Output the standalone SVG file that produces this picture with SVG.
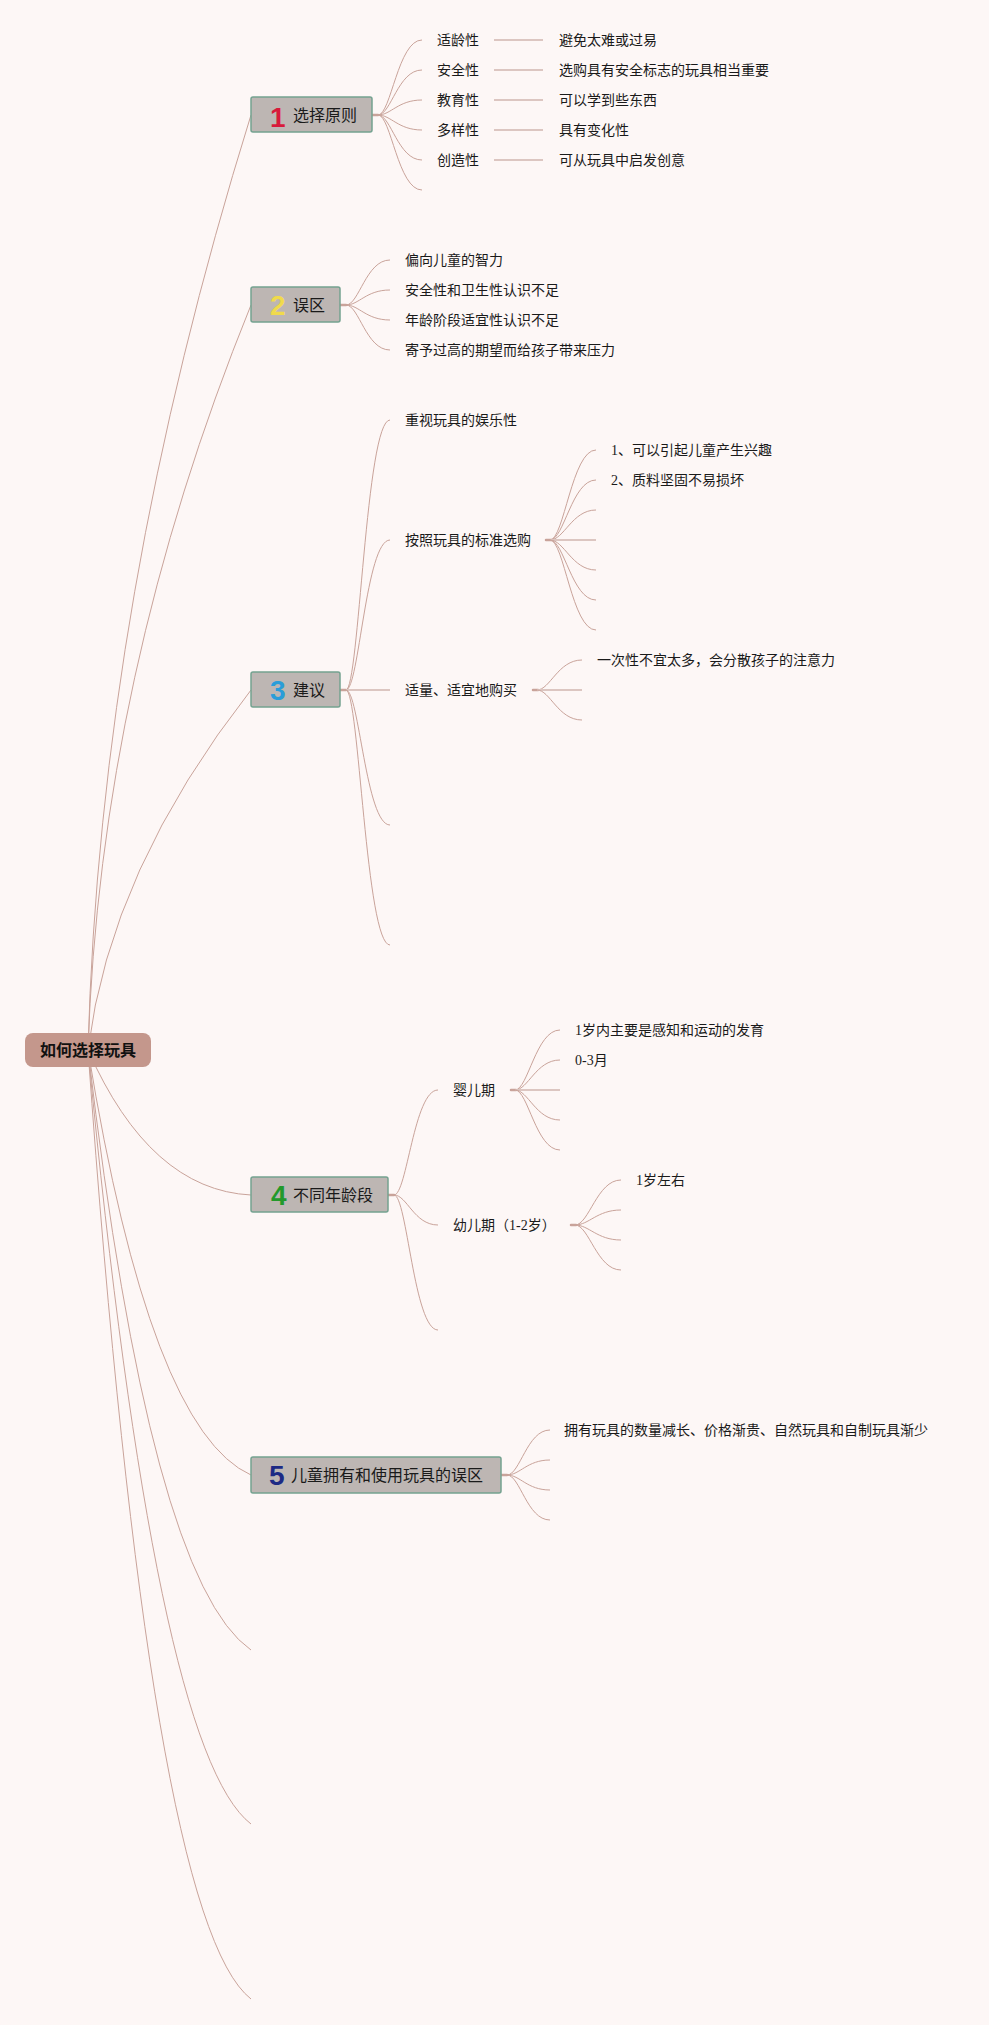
<svg xmlns="http://www.w3.org/2000/svg" width="989" height="2025" viewBox="0 0 989 2025">
<style>
.bg{fill:#fdf7f6}
.c{fill:none;stroke:#c9a39a;stroke-width:1}
.s{fill:none;stroke:#c9a39a;stroke-width:2.5;stroke-linecap:round}
.h{fill:none;stroke:#dcc6c1;stroke-width:2}
.nb{fill:#bdb6b3;stroke:#74a290;stroke-width:1.5}
.rb{fill:#c4978c}
.rt{font-family:"Liberation Sans","Noto Sans CJK SC",sans-serif;font-size:16px;font-weight:bold;fill:#111}
.nt{font-family:"Liberation Sans","Noto Sans CJK SC",sans-serif;font-size:16px;fill:#1a1a1a}
.num{font-family:"Liberation Sans","DejaVu Sans",sans-serif;font-size:28px;font-weight:bold}
.t{font-family:"Liberation Serif","Noto Sans CJK SC",sans-serif;font-size:14px;fill:#1a1a1a}
</style>
<rect class="bg" x="0" y="0" width="989" height="2025"/>
<g id="connectors">
<path class="c" d="M88 1050 Q100 600 251 115"/>
<path class="c" d="M88 1050 Q100 677 251 305"/>
<path class="c" d="M88 1050 Q110 870 251 690"/>
<path class="c" d="M88 1050 Q150 1190 251 1195"/>
<path class="c" d="M88 1050 Q150 1430 251 1475"/>
<path class="c" d="M88 1050 Q150 1580 251 1650"/>
<path class="c" d="M88 1050 Q155 1750 251 1824"/>
<path class="c" d="M88 1050 Q150 1920 251 1999"/>
<line class="s" x1="372" y1="115" x2="378" y2="115"/>
<path class="c" d="M378 115 C391 115 398 40 422 40"/>
<path class="c" d="M378 115 C391 115 398 70 422 70"/>
<path class="c" d="M378 115 C391 115 398 100 422 100"/>
<path class="c" d="M378 115 C391 115 398 130 422 130"/>
<path class="c" d="M378 115 C391 115 398 160 422 160"/>
<path class="c" d="M378 115 C391 115 398 190 422 190"/>
<line class="h" x1="494" y1="40" x2="543" y2="40"/>
<line class="h" x1="494" y1="70" x2="543" y2="70"/>
<line class="h" x1="494" y1="100" x2="543" y2="100"/>
<line class="h" x1="494" y1="130" x2="543" y2="130"/>
<line class="h" x1="494" y1="160" x2="543" y2="160"/>
<line class="s" x1="340" y1="305" x2="346" y2="305"/>
<path class="c" d="M346 305 C359 305 366 260 390 260"/>
<path class="c" d="M346 305 C359 305 366 290 390 290"/>
<path class="c" d="M346 305 C359 305 366 320 390 320"/>
<path class="c" d="M346 305 C359 305 366 350 390 350"/>
<line class="s" x1="340" y1="690" x2="346" y2="690"/>
<path class="c" d="M346 690 C359 690 366 420 390 420"/>
<path class="c" d="M346 690 C359 690 366 540 390 540"/>
<line class="h" x1="346" y1="690" x2="390" y2="690"/>
<path class="c" d="M346 690 C359 690 366 825 390 825"/>
<path class="c" d="M346 690 C359 690 366 945 390 945"/>
<line class="s" x1="546" y1="540" x2="552" y2="540"/>
<path class="c" d="M550 540 C564 540 572 450 596 450"/>
<path class="c" d="M550 540 C564 540 572 480 596 480"/>
<path class="c" d="M550 540 C564 540 572 510 596 510"/>
<line class="h" x1="550" y1="540" x2="596" y2="540"/>
<path class="c" d="M550 540 C564 540 572 570 596 570"/>
<path class="c" d="M550 540 C564 540 572 600 596 600"/>
<path class="c" d="M550 540 C564 540 572 630 596 630"/>
<line class="s" x1="533" y1="690" x2="538" y2="690"/>
<path class="c" d="M537 690 C550 690 558 660 582 660"/>
<line class="h" x1="537" y1="690" x2="582" y2="690"/>
<path class="c" d="M537 690 C550 690 558 720 582 720"/>
<line class="s" x1="388" y1="1195" x2="394" y2="1195"/>
<path class="c" d="M394 1195 C407 1195 414 1090 438 1090"/>
<path class="c" d="M394 1195 C407 1195 414 1225 438 1225"/>
<path class="c" d="M394 1195 C407 1195 414 1330 438 1330"/>
<line class="s" x1="511" y1="1090" x2="516" y2="1090"/>
<path class="c" d="M515 1090 C528 1090 536 1030 560 1030"/>
<path class="c" d="M515 1090 C528 1090 536 1060 560 1060"/>
<line class="h" x1="515" y1="1090" x2="560" y2="1090"/>
<path class="c" d="M515 1090 C528 1090 536 1120 560 1120"/>
<path class="c" d="M515 1090 C528 1090 536 1150 560 1150"/>
<line class="s" x1="571" y1="1225" x2="576" y2="1225"/>
<path class="c" d="M575 1225 C589 1225 597 1180 621 1180"/>
<path class="c" d="M575 1225 C589 1225 597 1210 621 1210"/>
<path class="c" d="M575 1225 C589 1225 597 1240 621 1240"/>
<path class="c" d="M575 1225 C589 1225 597 1270 621 1270"/>
<line class="s" x1="501" y1="1475" x2="507" y2="1475"/>
<path class="c" d="M507 1475 C520 1475 527 1430 550 1430"/>
<path class="c" d="M507 1475 C520 1475 527 1460 550 1460"/>
<path class="c" d="M507 1475 C520 1475 527 1490 550 1490"/>
<path class="c" d="M507 1475 C520 1475 527 1520 550 1520"/>
</g>
<g id="root">
<rect class="rb" x="25" y="1033" width="126" height="34" rx="8"/>
<text class="rt" x="88" y="1056" text-anchor="middle">如何选择玩具</text>
</g>
<g id="n1">
<rect class="nb" x="251" y="97" width="121" height="35" rx="2"/>
<text class="num" x="270" y="127" fill="#d81b3b">1</text>
<text class="nt" x="293" y="121">选择原则</text>
</g>
<g id="n2">
<rect class="nb" x="251" y="287" width="89" height="35" rx="2"/>
<text class="num" x="270" y="315" fill="#f0da4c">2</text>
<text class="nt" x="293" y="311">误区</text>
</g>
<g id="n3">
<rect class="nb" x="251" y="672" width="89" height="35" rx="2"/>
<text class="num" x="270" y="700" fill="#2a9dd9">3</text>
<text class="nt" x="293" y="696">建议</text>
</g>
<g id="n4">
<rect class="nb" x="251" y="1177" width="137" height="35" rx="2"/>
<text class="num" x="271" y="1205" fill="#23992b">4</text>
<text class="nt" x="293" y="1201">不同年龄段</text>
</g>
<g id="n5">
<rect class="nb" x="251" y="1457" width="250" height="36" rx="2"/>
<text class="num" x="269" y="1485" fill="#1d2a85">5</text>
<text class="nt" x="291" y="1481">儿童拥有和使用玩具的误区</text>
</g>
<g id="n1c">
<text class="t" x="437" y="45">适龄性</text>
<text class="t" x="437" y="75">安全性</text>
<text class="t" x="437" y="105">教育性</text>
<text class="t" x="437" y="135">多样性</text>
<text class="t" x="437" y="165">创造性</text>
<text class="t" x="559" y="45">避免太难或过易</text>
<text class="t" x="559" y="75">选购具有安全标志的玩具相当重要</text>
<text class="t" x="559" y="105">可以学到些东西</text>
<text class="t" x="559" y="135">具有变化性</text>
<text class="t" x="559" y="165">可从玩具中启发创意</text>
</g>
<g id="n2c">
<text class="t" x="405" y="265">偏向儿童的智力</text>
<text class="t" x="405" y="295">安全性和卫生性认识不足</text>
<text class="t" x="405" y="325">年龄阶段适宜性认识不足</text>
<text class="t" x="405" y="355">寄予过高的期望而给孩子带来压力</text>
</g>
<g id="n3c">
<text class="t" x="405" y="425">重视玩具的娱乐性</text>
<text class="t" x="405" y="545">按照玩具的标准选购</text>
<text class="t" x="405" y="695">适量、适宜地购买</text>
<text class="t" x="611" y="455">1、可以引起儿童产生兴趣</text>
<text class="t" x="611" y="485">2、质料坚固不易损坏</text>
<text class="t" x="597" y="665">一次性不宜太多，会分散孩子的注意力</text>
</g>
<g id="n4c">
<text class="t" x="453" y="1095">婴儿期</text>
<text class="t" x="453" y="1230">幼儿期（1-2岁）</text>
<text class="t" x="575" y="1035">1岁内主要是感知和运动的发育</text>
<text class="t" x="575" y="1065">0-3月</text>
<text class="t" x="636" y="1185">1岁左右</text>
</g>
<g id="n5c">
<text class="t" x="564" y="1435">拥有玩具的数量减长、价格渐贵、自然玩具和自制玩具渐少</text>
</g>
</svg>
